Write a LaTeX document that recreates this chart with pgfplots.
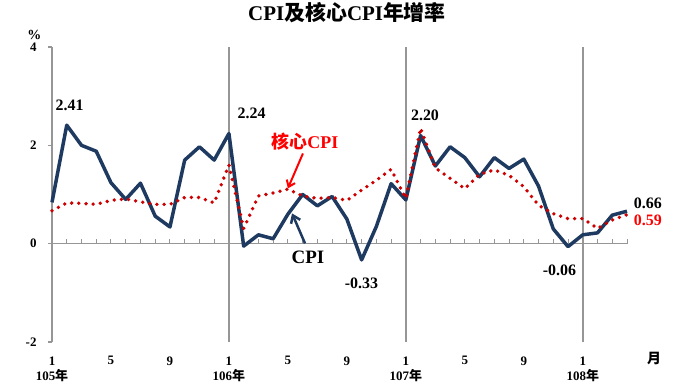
\documentclass[border=0pt]{standalone}
\usepackage{pgfplots}
\pgfplotsset{compat=1.18}
\usepackage{fontspec}
\setmainfont{Liberation Serif}
\newfontfamily\cjk{Noto Sans CJK TC}
\usetikzlibrary{arrows.meta}
\definecolor{navy}{RGB}{31,58,96}
\definecolor{dotred}{RGB}{204,0,0}
\definecolor{txtred}{RGB}{255,0,0}
\definecolor{axgray}{RGB}{150,150,150}
\pgfplotstableread{
x cpi core
0 0.84 0.67
1 2.41 0.83
2 2.00 0.82
3 1.88 0.80
4 1.24 0.88
5 0.90 0.91
6 1.23 0.85
7 0.56 0.80
8 0.34 0.80
9 1.70 0.94
10 1.97 0.94
11 1.70 0.83
12 2.24 1.60
13 -0.05 0.31
14 0.18 0.97
15 0.10 1.03
16 0.60 1.11
17 1.00 0.97
18 0.77 0.92
19 0.96 0.94
20 0.50 0.88
21 -0.33 1.09
22 0.35 1.29
23 1.22 1.51
24 0.89 0.92
25 2.20 2.35
26 1.58 1.54
27 1.97 1.33
28 1.75 1.12
29 1.36 1.41
30 1.75 1.50
31 1.53 1.39
32 1.72 1.16
33 1.17 0.78
34 0.30 0.61
35 -0.06 0.51
36 0.18 0.51
37 0.22 0.31
38 0.58 0.48
39 0.66 0.59
}\data
\begin{document}
\begin{tikzpicture}
\path[use as bounding box] (0,0) rectangle (680bp,383bp);
\node[font=\bfseries\fontsize{21}{24}\selectfont] at (347bp,370bp) {CPI{\cjk 及核心}CPI{\cjk 年增率}};
\begin{axis}[at={(52bp,41bp)}, anchor=south west, scale only axis,
  width=575bp, height=295bp,
  xmin=0, xmax=39, ymin=-2, ymax=4,
  axis x line*=bottom, axis y line*=left,
  x axis line style={draw=none},
  y axis line style={axgray, line width=1.5bp, -},
  ytick={-2,0,2,4}, yticklabels={-2,0,2,4},
  ytick style={axgray, line width=1.2bp},
  tick align=outside, major tick length=4bp,
  xtick={0,4,...,36},
  xticklabels={{1\\105{\cjk 年}},5,9,{1\\106{\cjk 年}},5,9,{1\\107{\cjk 年}},5,9,{1\\108{\cjk 年}}},
  xtick style={draw=none},
  xticklabel style={align=center, font=\bfseries\fontsize{13}{15.5}\selectfont, yshift=-7bp},
  yticklabel style={font=\bfseries\fontsize{13}{15}\selectfont, xshift=-8bp},
  clip=false,
]
\draw[axgray, line width=1.5bp] (axis cs:0,0) -- (axis cs:39,0);
\pgfplotsinvokeforeach{1,...,39}{\draw[axgray, line width=1bp] (axis cs:#1,0) -- (axis cs:#1,0.085);}
\pgfplotsinvokeforeach{12,24,36}{\draw[axgray, line width=1.8bp] (axis cs:#1,-2) -- (axis cs:#1,4);}
\addplot[navy, line width=3.5bp, line join=round] table[x=x, y=cpi] {\data};
\addplot[dotred, line width=3.8bp, line cap=round, dash pattern=on 0bp off 7.2bp] table[x=x, y=core] {\data};
\begin{scope}[font=\bfseries\fontsize{16}{18}\selectfont]
\node at (axis cs:1.19,2.82) {2.41};
\node at (axis cs:13.54,2.66) {2.24};
\node at (axis cs:25.3,2.62) {2.20};
\node at (axis cs:20.99,-0.81) {-0.33};
\node at (axis cs:34.42,-0.55) {-0.06};
\node at (axis cs:40.42,0.82) {0.66};
\node[txtred] at (axis cs:40.42,0.48) {0.59};
\end{scope}
\node[font=\bfseries\fontsize{18}{20}\selectfont, txtred] at (axis cs:17.16,2.08) {{\cjk 核心}CPI};
\node[font=\bfseries\fontsize{19}{21}\selectfont] at (axis cs:17.36,-0.28) {CPI};
\draw[txtred, line width=2bp, -{Straight Barb[length=6bp,width=9bp]}] (axis cs:17.02,1.835) -- (axis cs:16.0,1.124);
\draw[navy, line width=2.5bp, -{Straight Barb[length=7bp,width=10bp]}] (axis cs:17.16,0.006) -- (axis cs:16.28,0.616);
\node[font=\bfseries\fontsize{14}{16}\selectfont] at (axis cs:-1.19,4.25) {\%};
\node[font=\bfseries\fontsize{14}{16}\selectfont] at (axis cs:40.83,-2.34) {{\cjk 月}};
\end{axis}
\end{tikzpicture}
\end{document}
